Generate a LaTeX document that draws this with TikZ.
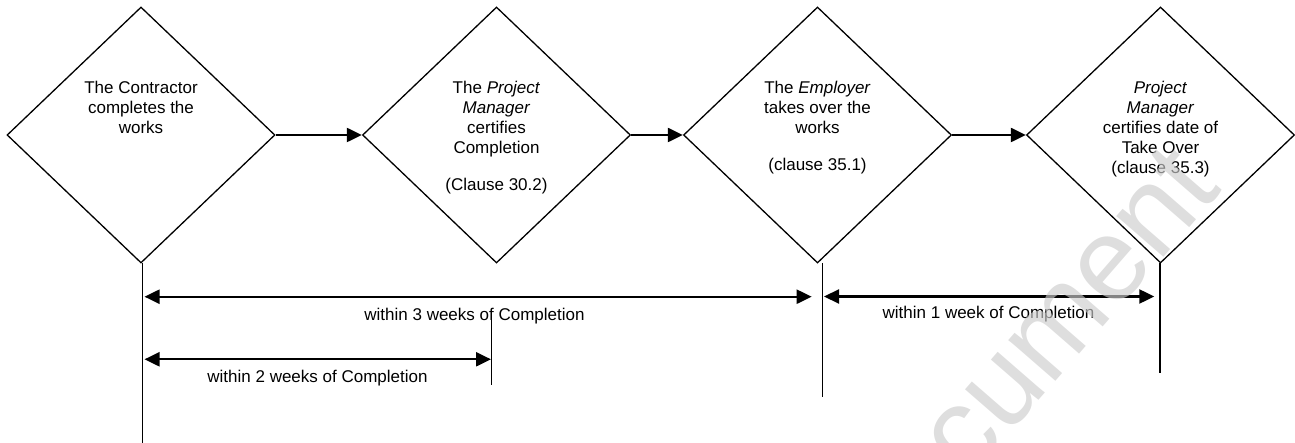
\documentclass[tikz,border=0pt]{standalone}
\usepackage{fontspec}
\newfontfamily\arialfont{Liberation Sans}
\usetikzlibrary{shapes.geometric,arrows.meta}
\begin{document}
\begin{tikzpicture}[x=1pt,y=-1pt,
  decision/.style={draw, diamond, line width=1.3pt, minimum width=268pt,
    minimum height=256pt, inner sep=0pt},
  steptext/.style={font=\arialfont\fontsize{17}{20}\selectfont, align=center,
    anchor=north, inner sep=0pt},
  spantext/.style={font=\arialfont\fontsize{17}{20}\selectfont, anchor=base,
    inner sep=0pt},
  flow/.style={line width=2.2pt, -{Triangle[length=15pt,width=14pt]}},
  interval/.style={line width=2.2pt,
    {Triangle[length=15pt,width=14pt]}-{Triangle[length=15pt,width=14pt]}},
  dateline/.style={line width=1.5pt}
]
\useasboundingbox (0,0) rectangle (1295,443);

% the four stages
\node[decision] (d1) at (141,135) {};
\node[decision] (d2) at (496.5,135) {};
\node[decision] (d3) at (817.5,135) {};
\node[decision] (d4) at (1160.5,135) {};

\node[steptext] (t1) at (141,81) {The Contractor\\completes the\\works};
\node[steptext] (t2) at (496.5,81) {The \textit{Project}\\\textit{Manager}\\certifies\\Completion\\[16.6pt](Clause 30.2)};
\node[steptext] (t3) at (817.5,81) {The \textit{Employer}\\takes over the\\works\\[16.6pt](clause 35.1)};
\node[steptext] (t4) at (1160.5,81) {\textit{Project}\\\textit{Manager}\\certifies date of\\Take Over\\(clause 35.3)};

% sequence arrows
\draw[flow] (d1.east) -- (d2.west);
\draw[flow] (d2.east) -- (d3.west);
\draw[flow] (d3.east) -- (d4.west);

% time-line markers below the stages
\coordinate (m1top) at (142.7,263);  \coordinate (m1bot) at (142.7,443);
\coordinate (m2top) at (491.7,312);  \coordinate (m2bot) at (491.7,385);
\coordinate (m3top) at (822.7,263);  \coordinate (m3bot) at (822.7,397);
\coordinate (m4top) at (1160,263);   \coordinate (m4bot) at (1160,372.7);

% periods
\coordinate (a3l) at (144.5,296.7); \coordinate (a3r) at (811.7,296.7);
\coordinate (a2l) at (144.5,359.3); \coordinate (a2r) at (491,359.3);
\coordinate (a1l) at (824,296.5);   \coordinate (a1r) at (1154.3,296.5);
\draw[interval] (a3l) -- (a3r);
\draw[interval] (a2l) -- (a2r);
\draw[interval] (a1l) -- (a1r);

\node[spantext] (l3) at (474.5,320.5) {within 3 weeks of Completion};
\node[spantext] (l2) at (317.5,382.7) {within 2 weeks of Completion};
\node[spantext] (l1) at (988.5,318.5) {within 1 week of Completion};

\draw[dateline] (m1top) -- (m1bot);
\draw[dateline] (m2top) -- (m2bot);
\draw[dateline] (m3top) -- (m3bot);
\draw[dateline] (m4top) -- (m4bot);

% faint diagonal stamp
\node[rotate=49, text=black!20, opacity=0.65, inner sep=0pt,
  font=\arialfont\fontsize{118}{118}\selectfont] (stamp) at (1016,366) {Document};
\end{tikzpicture}
\end{document}
